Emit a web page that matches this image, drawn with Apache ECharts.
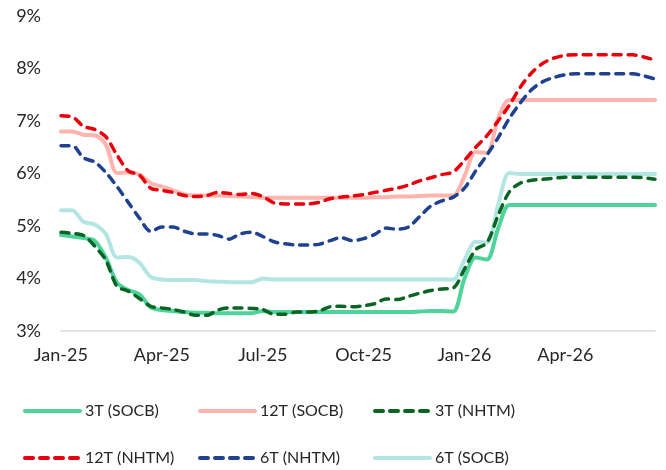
<!DOCTYPE html>
<html>
<head>
<meta charset="utf-8">
<script src="https://cdn.jsdelivr.net/npm/echarts@6/dist/echarts.min.js"></script>
<style>
  html, body { margin: 0; padding: 0; background: #fff; }
  #chart { width: 666px; height: 470px; }
</style>
</head>
<body>
<div id="chart"></div>
<script>
// roughly every 10 days, Jan-25 .. Jun-26
const categories = [
  '2025-01-01', '2025-01-11', '2025-01-21', '2025-02-01', '2025-02-11', '2025-02-21',
  '2025-03-01', '2025-03-11', '2025-03-21', '2025-04-01', '2025-04-11', '2025-04-21',
  '2025-05-01', '2025-05-11', '2025-05-21', '2025-06-01', '2025-06-11', '2025-06-21',
  '2025-07-01', '2025-07-11', '2025-07-21', '2025-08-01', '2025-08-11', '2025-08-21',
  '2025-09-01', '2025-09-11', '2025-09-21', '2025-10-01', '2025-10-11', '2025-10-21',
  '2025-11-01', '2025-11-11', '2025-11-21', '2025-12-01', '2025-12-11', '2025-12-21',
  '2026-01-01', '2026-01-11', '2026-01-21', '2026-02-01', '2026-02-11', '2026-02-21',
  '2026-03-01', '2026-03-11', '2026-03-21', '2026-04-01', '2026-04-11', '2026-04-21',
  '2026-05-01', '2026-05-11', '2026-05-21', '2026-06-01', '2026-06-11', '2026-06-21'
];
const tickLabels = ['Jan-25', 'Apr-25', 'Jul-25', 'Oct-25', 'Jan-26', 'Apr-26'];
const tickEvery = 9;

const names = ['3T (SOCB)', '12T (SOCB)', '3T (NHTM)', '12T (NHTM)', '6T (NHTM)', '6T (SOCB)'];

const socb3 = [
  4.83, 4.80, 4.77, 4.72, 4.40, 3.92, 3.78, 3.70, 3.45, 3.40, 3.38, 3.36,
  3.35, 3.35, 3.34, 3.34, 3.34, 3.34, 3.38, 3.36, 3.36, 3.36, 3.36, 3.36,
  3.36, 3.36, 3.36, 3.36, 3.36, 3.36, 3.36, 3.36, 3.37, 3.38, 3.38, 3.37,
  4.00, 4.40, 4.36, 4.95, 5.40, 5.40, 5.40, 5.40, 5.40, 5.40, 5.40, 5.40,
  5.40, 5.40, 5.40, 5.40, 5.40, 5.40
];
const socb12 = [
  6.80, 6.80, 6.74, 6.73, 6.55, 6.01, 6.02, 5.98, 5.82, 5.75, 5.68, 5.60,
  5.58, 5.58, 5.58, 5.57, 5.56, 5.55, 5.54, 5.54, 5.54, 5.54, 5.54, 5.54,
  5.54, 5.54, 5.54, 5.54, 5.55, 5.55, 5.56, 5.56, 5.57, 5.58, 5.58, 5.58,
  5.95, 6.41, 6.39, 7.05, 7.40, 7.40, 7.40, 7.40, 7.40, 7.40, 7.40, 7.40,
  7.40, 7.40, 7.40, 7.40, 7.40, 7.40
];
const nhtm3 = [
  4.88, 4.86, 4.82, 4.62, 4.35, 3.85, 3.76, 3.62, 3.47, 3.44, 3.41, 3.36,
  3.30, 3.30, 3.40, 3.44, 3.44, 3.43, 3.41, 3.32, 3.32, 3.36, 3.36, 3.38,
  3.46, 3.47, 3.46, 3.48, 3.52, 3.61, 3.60, 3.66, 3.72, 3.77, 3.80, 3.82,
  4.18, 4.55, 4.68, 5.20, 5.65, 5.82, 5.87, 5.89, 5.91, 5.93, 5.93, 5.93,
  5.93, 5.93, 5.93, 5.93, 5.92, 5.89
];
const nhtm12 = [
  7.10, 7.08, 6.90, 6.84, 6.70, 6.35, 6.05, 5.97, 5.72, 5.68, 5.64, 5.58,
  5.56, 5.58, 5.64, 5.62, 5.60, 5.62, 5.56, 5.44, 5.42, 5.42, 5.42, 5.45,
  5.52, 5.55, 5.57, 5.60, 5.64, 5.68, 5.72, 5.78, 5.86, 5.92, 5.98, 6.03,
  6.25, 6.50, 6.72, 7.00, 7.30, 7.65, 7.92, 8.10, 8.20, 8.25, 8.26, 8.26,
  8.26, 8.26, 8.26, 8.26, 8.22, 8.16
];
const nhtm6 = [
  6.53, 6.53, 6.30, 6.22, 6.02, 5.75, 5.45, 5.15, 4.90, 4.98, 4.98, 4.90,
  4.85, 4.85, 4.82, 4.75, 4.85, 4.88, 4.80, 4.70, 4.66, 4.64, 4.64, 4.65,
  4.72, 4.78, 4.72, 4.76, 4.84, 4.96, 4.94, 4.98, 5.18, 5.38, 5.48, 5.55,
  5.72, 6.05, 6.35, 6.68, 7.05, 7.35, 7.60, 7.75, 7.83, 7.88, 7.90, 7.90,
  7.90, 7.90, 7.90, 7.90, 7.86, 7.80
];
const socb6 = [
  5.30, 5.30, 5.08, 5.03, 4.85, 4.40, 4.41, 4.30, 4.03, 3.98, 3.97, 3.97,
  3.97, 3.95, 3.94, 3.93, 3.93, 3.93, 4.00, 3.98, 3.98, 3.98, 3.98, 3.98,
  3.98, 3.98, 3.98, 3.98, 3.98, 3.98, 3.98, 3.98, 3.98, 3.98, 3.98, 3.98,
  4.35, 4.70, 4.68, 5.40, 6.01, 5.99, 5.99, 5.99, 5.99, 5.99, 5.99, 5.99,
  5.99, 5.99, 5.99, 5.99, 5.99, 5.99
];

const FONT = 'Lato, "Liberation Sans", sans-serif';
const TEXT = '#262626';

function makeSeries(name, data, color, dashed) {
  return {
    name: name,
    type: 'line',
    data: data,
    symbol: 'none',
    smooth: 0.3,
    animation: false,
    lineStyle: dashed
      ? { color: color, width: 3.5, type: [8, 7], cap: 'round' }
      : { color: color, width: 4, cap: 'round' },
    itemStyle: { color: color },
  };
}

// legend laid out as a fixed 3 x 2 grid
const legendPos = [
  [23, 403], [198, 403], [373, 403],
  [23, 450], [198, 450], [373, 450],
];

const chart = echarts.init(document.getElementById('chart'));
chart.setOption({
  backgroundColor: '#fff',
  textStyle: { fontFamily: FONT },
  grid: { left: 61, right: 11, top: 16, bottom: 139 },
  legend: names.map((n, i) => ({
    data: [n],
    left: legendPos[i][0],
    top: legendPos[i][1],
    padding: 0,
    itemWidth: 55,
    itemHeight: 14,
    itemStyle: { opacity: 0 },
    lineStyle: { width: 4 },
    textStyle: { fontFamily: FONT, fontSize: 16, color: TEXT },
  })),
  xAxis: {
    type: 'category',
    data: categories,
    boundaryGap: false,
    axisLine: { lineStyle: { color: '#d9d9d9', width: 1.5 } },
    axisTick: { show: false },
    axisLabel: {
      interval: (idx) => idx % tickEvery === 0,
      formatter: (val, idx) => tickLabels[Math.round(idx / tickEvery)] || '',
      color: TEXT,
      fontFamily: FONT,
      fontSize: 18,
      margin: 15,
    },
    splitLine: { show: false },
  },
  yAxis: {
    type: 'value',
    min: 3,
    max: 9,
    interval: 1,
    axisLine: { show: false },
    axisTick: { show: false },
    splitLine: { show: false },
    axisLabel: {
      formatter: '{value}%',
      color: TEXT,
      fontFamily: FONT,
      fontSize: 18,
      margin: 20,
    },
  },
  series: [
    makeSeries(names[0], socb3, '#4ed49b', false),
    makeSeries(names[1], socb12, '#ffb4ae', false),
    makeSeries(names[5], socb6, '#b3e5e3', false),
    makeSeries(names[2], nhtm3, '#0a6522', true),
    makeSeries(names[3], nhtm12, '#e8000b', true),
    makeSeries(names[4], nhtm6, '#1f4290', true),
  ],
});
</script>
</body>
</html>
